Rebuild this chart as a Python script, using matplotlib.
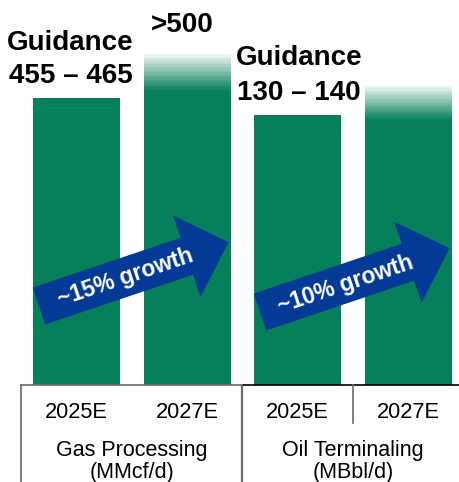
import numpy as np
import matplotlib
matplotlib.use('Agg')
import matplotlib.pyplot as plt
from matplotlib.patches import Polygon

plt.rcParams['font.family'] = ['Liberation Sans', 'DejaVu Sans']

# data (bar heights, in each segment's own unit)
years = ['2025E', '2027E']
gas_solid = [460, 473]
gas_fade_top = [None, 530]
oil_solid = [135, 133]
oil_fade_top = [None, 149.5]
gas_ymax = 617
oil_ymax = 192.5

segments = ['Gas Processing\n(MMcf/d)', 'Oil Terminaling\n(MBbl/d)']
guidance = [('Guidance', '455 – 465'), ('Guidance', '130 – 140')]
growth = ['~15% growth', '~10% growth']

GREEN = '#06805A'
BLUE = '#043A95'
LINE = '#6b6b6b'

W, H = 460, 482
fig = plt.figure(figsize=(W / 100, H / 100), dpi=100)


def fx(px):
    return px / W


def fy(py):
    return 1 - py / H


ax_gas = fig.add_axes([fx(21), fy(385), fx(222), 385 / H])
ax_oil = fig.add_axes([fx(242), fy(385), fx(222), 385 / H])

x = np.arange(len(years))
bw = 0.784
n_bands = 14

for ax, solid, fade, ymax in [(ax_gas, gas_solid, gas_fade_top, gas_ymax),
                              (ax_oil, oil_solid, oil_fade_top, oil_ymax)]:
    ax.bar(x, solid, width=bw, color=GREEN, linewidth=0)
    for i, top in enumerate(fade):
        if top is None:
            continue
        edges = np.linspace(solid[i], top, n_bands + 1)
        alphas = np.linspace(0.95, 0.08, n_bands)
        for k in range(n_bands):
            ax.bar(x[i], edges[k + 1] - edges[k], bottom=edges[k], width=bw,
                   color=GREEN, alpha=alphas[k], linewidth=0)
    ax.set_xlim(-0.5, 1.5)
    ax.set_ylim(0, ymax)
    ax.axis('off')

# table below the bars
for ax, top_color in [(ax_gas, LINE), (ax_oil, 'black')]:
    ax.plot([-0.5, 1.5], [0, 0], color=top_color, lw=1.2, clip_on=False)
    for i, yr in enumerate(years):
        ax.text(x[i], -33 / 385, yr, transform=ax.get_xaxis_transform(),
                ha='center', va='baseline', fontsize=15.7)
for ax, seg in zip([ax_gas, ax_oil], segments):
    name, unit = seg.split('\n')
    ax.text(0.5, -71 / 385, name, transform=ax.transAxes, ha='center',
            va='baseline', fontsize=15.5)
    ax.text(0.5, -93 / 385, unit, transform=ax.transAxes, ha='center',
            va='baseline', fontsize=15.5)

ax_gas.plot([-0.5, -0.5], [0, -100 / 385], color=LINE, lw=1.2, clip_on=False,
            transform=ax_gas.get_xaxis_transform())
ax_oil.plot([-0.5, -0.5], [0, -100 / 385], color=LINE, lw=1.6, clip_on=False,
            transform=ax_oil.get_xaxis_transform())
ax_oil.plot([0.5, 0.5], [0, -38 / 385], color=LINE, lw=1.2, clip_on=False,
            transform=ax_oil.get_xaxis_transform())

# guidance labels above bars
fig.text(fx(70.5), fy(50), guidance[0][0], ha='center', va='baseline',
         fontsize=20, fontweight='bold')
fig.text(fx(70.5), fy(83), guidance[0][1], ha='center', va='baseline',
         fontsize=20, fontweight='bold')
fig.text(fx(182), fy(32), '>500', ha='center', va='baseline',
         fontsize=20, fontweight='bold')
fig.text(fx(299), fy(65), guidance[1][0], ha='center', va='baseline',
         fontsize=20, fontweight='bold')
fig.text(fx(299), fy(100), guidance[1][1], ha='center', va='baseline',
         fontsize=20, fontweight='bold')


# growth arrows, drawn in pixel space
def arrow(start, length, angle_deg, shaft_w=39, head_w=86, head_len=44):
    a = np.deg2rad(angle_deg)
    d = np.array([np.cos(a), np.sin(a)])
    n = np.array([-np.sin(a), np.cos(a)])
    s = np.array(start, dtype=float)
    base = s + d * (length - head_len)
    tip = s + d * length
    pts = [s - n * shaft_w / 2, base - n * shaft_w / 2, base - n * head_w / 2,
           tip, base + n * head_w / 2, base + n * shaft_w / 2, s + n * shaft_w / 2]
    return np.array(pts) / 100


for (sx, sy), label, (tx, ty) in [((39, H - 306), growth[0], (125, 278)),
                                   ((260, H - 312), growth[1], (346, 284))]:
    fig.patches.append(Polygon(arrow((sx, sy), 200, 18.6), closed=True,
                               facecolor=BLUE, edgecolor='none',
                               transform=fig.dpi_scale_trans, figure=fig))
    fig.text(fx(tx), fy(ty), label, ha='center', va='center', rotation=18.6,
             rotation_mode='anchor', color='white', fontsize=16.5,
             fontweight='bold')

fig.savefig('out.png', dpi=100)
